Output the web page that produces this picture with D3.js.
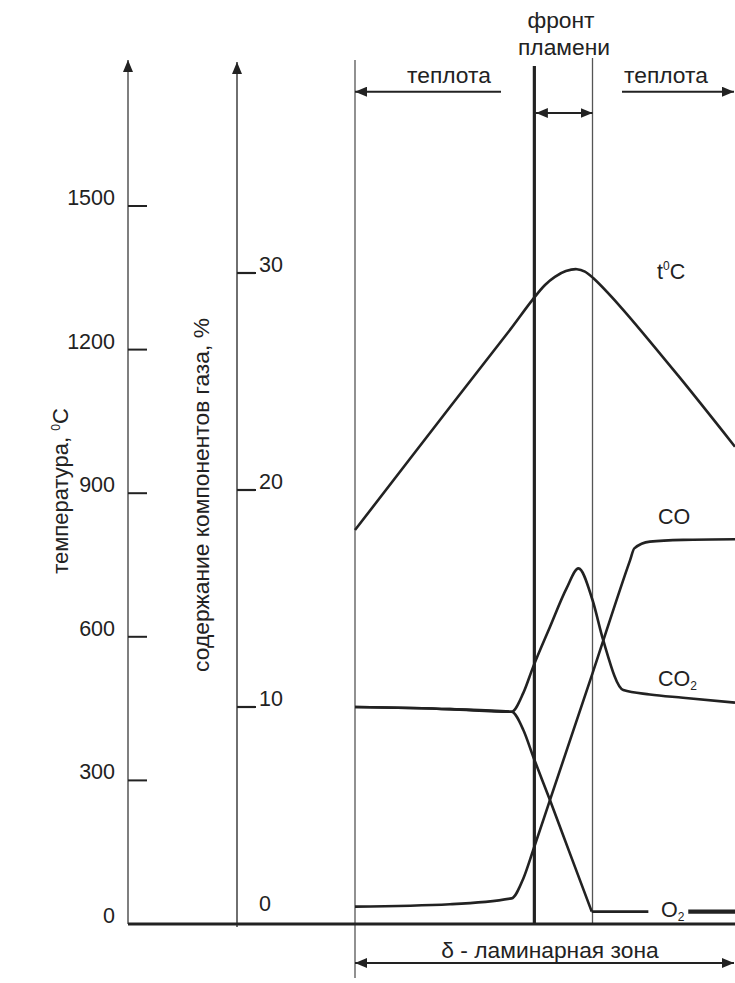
<!DOCTYPE html>
<html><head><meta charset="utf-8">
<script src="https://cdn.jsdelivr.net/npm/d3@7"></script>
<style>body{margin:0;background:#fff}svg text{font-family:"Liberation Sans",Arial,sans-serif;fill:#222}</style>
</head><body><div id="chart"></div>
<script>
// ---- data ----
const tempTicks = [0, 300, 600, 900, 1200, 1500];
const gasTicks = [0, 10, 20, 30];
// zone boundaries along the laminar zone (0..100)
const zoneBounds = [0, 47.2, 62.5, 100];
// temperature, °C
const tempX = [0, 25, 40, 46.8, 50.0, 52.6, 55.5, 58.4, 60.5, 62.6, 69.7, 85, 100];
const tempV = [823, 1080, 1233, 1305, 1335, 1352, 1364, 1368, 1363, 1350, 1291, 1146, 997];
// CO2, %
const co2X = [0, 25, 41.2, 44.3, 46.9, 51.3, 55.7, 58.8, 62.5, 65.3, 70.6, 77.6, 86.3, 100];
const co2V = [10.0, 9.9, 9.78, 10.65, 11.86, 13.69, 15.48, 16.39, 14.93, 13.09, 10.78, 10.58, 10.43, 10.2];
// CO, %
const coX = [0, 25, 41.2, 44.3, 46.9, 51.3, 62.5, 72.4, 73.5, 77.6, 86.4, 100];
const coV = [0.80, 0.91, 1.18, 2.1, 3.41, 5.71, 11.55, 16.77, 17.31, 17.62, 17.70, 17.73];
// O2, %
const o2X = [0, 25, 41.2, 44.3, 46.9, 51.3, 56.6, 62.3];
const o2V = [10.0, 9.9, 9.78, 8.94, 7.71, 5.71, 3.23, 0.57];
const o2TailX = [62.3, 77.2];
const o2Tail2X = [87.7, 100];
const o2TailV = 0.57;

// ---- layout ----
const W = 735, H = 983;
const baseY = 924;
const tAxisX = 128, gAxisX = 237;
const x = d3.scaleLinear().domain([0, 100]).range([355, 735]);
const yT = d3.scaleLinear().domain([0, 1500]).range([baseY, 206]);
const yG = d3.scaleLinear().domain([0, 30]).range([baseY, 273]);
const FS = 21.5, FC = 22.8;
const ink = "#222";

const svg = d3.select("#chart").append("svg").attr("width", W).attr("height", H);
const defs = svg.append("defs");
defs.append("marker").attr("id", "ah").attr("viewBox", "0 0 12 10")
  .attr("refX", 12).attr("refY", 5).attr("markerUnits", "userSpaceOnUse")
  .attr("markerWidth", 12).attr("markerHeight", 10).attr("orient", "auto-start-reverse")
  .append("path").attr("d", "M0,0 L12,5 L0,10 Z").attr("fill", ink);

function line(x1, y1, x2, y2, w, c) {
  return svg.append("line").attr("x1", x1).attr("y1", y1).attr("x2", x2).attr("y2", y2)
    .attr("stroke", c || ink).attr("stroke-width", w);
}

// axes
line(tAxisX, baseY, tAxisX, 60, 1.5, "#555").attr("marker-end", "url(#ah)");
line(gAxisX, baseY + 3, gAxisX, 62, 1.3, ink).attr("marker-end", "url(#ah)");
tempTicks.filter(d => d > 0).forEach(d => line(tAxisX, yT(d), tAxisX + 19, yT(d), 2));
gasTicks.filter(d => d > 0).forEach(d => line(gAxisX, yG(d), gAxisX + 19, yG(d), 2.2));
svg.selectAll(".tl").data(tempTicks).enter().append("text")
  .attr("x", tAxisX - 13).attr("y", d => yT(d) - 1).attr("text-anchor", "end")
  .attr("font-size", FS).text(d => d);
svg.selectAll(".gl").data(gasTicks).enter().append("text")
  .attr("x", gAxisX + 22).attr("y", d => d === 0 ? yG(d) - 13 : yG(d) - 1)
  .attr("font-size", FS).text(d => d);

// axis titles
const t1 = svg.append("text").attr("transform", "translate(68,491) rotate(-90)")
  .attr("text-anchor", "middle").attr("font-size", 22);
t1.append("tspan").text("температура, ");
t1.append("tspan").attr("font-size", 12).attr("dy", -8).text("0");
t1.append("tspan").attr("dy", 8).text("C");
svg.append("text").attr("transform", "translate(209,495) rotate(-90)")
  .attr("text-anchor", "middle").attr("font-size", FC).text("содержание компонентов газа, %");

// zone lines
line(x(zoneBounds[0]), 60, x(zoneBounds[0]), 978, 1.3, "#555");
line(x(zoneBounds[1]), 66, x(zoneBounds[1]), baseY, 3.2, ink);
line(x(zoneBounds[2]), 58, x(zoneBounds[2]), baseY, 1.3, "#555");

// baseline
line(tAxisX, baseY, W, baseY, 3, ink);

// top arrows and labels
line(501, 91.7, x(zoneBounds[0]), 91.7, 2).attr("marker-end", "url(#ah)");
line(622, 91.7, x(zoneBounds[3]) - 1, 91.7, 2).attr("marker-end", "url(#ah)");
line(x(zoneBounds[1]) + 1.5, 113, x(zoneBounds[2]), 113, 2)
  .attr("marker-start", "url(#ah)").attr("marker-end", "url(#ah)");
svg.append("text").attr("x", 449).attr("y", 83).attr("text-anchor", "middle").attr("font-size", FC).text("теплота");
svg.append("text").attr("x", 666).attr("y", 83).attr("text-anchor", "middle").attr("font-size", FC).text("теплота");
svg.append("text").attr("x", 561).attr("y", 28).attr("text-anchor", "middle").attr("font-size", FC).text("фронт");
svg.append("text").attr("x", 564).attr("y", 55).attr("text-anchor", "middle").attr("font-size", FC).text("пламени");

// bottom arrow
line(x(zoneBounds[0]), 963, x(zoneBounds[3]) - 1, 963, 2)
  .attr("marker-start", "url(#ah)").attr("marker-end", "url(#ah)");
svg.append("text").attr("x", 550).attr("y", 958).attr("text-anchor", "middle").attr("font-size", FC).text("δ - ламинарная зона");

// curves
function curve(xs, vs, ys, cf) {
  const gen = d3.line().x(d => x(d[0])).y(d => ys(d[1])).curve(cf || d3.curveMonotoneX);
  svg.append("path").attr("d", gen(xs.map((v, i) => [v, vs[i]])))
    .attr("fill", "none").attr("stroke", ink).attr("stroke-width", 2.6)
    .attr("stroke-linejoin", "round");
}
curve(tempX, tempV, yT, d3.curveCatmullRom.alpha(0.5));
curve(co2X, co2V, yG);
curve(coX, coV, yG);
curve(o2X, o2V, yG);
line(x(o2TailX[0]), yG(o2TailV), x(o2TailX[1]), yG(o2TailV), 2.8);
line(x(o2Tail2X[0]), yG(o2TailV), x(o2Tail2X[1]), yG(o2TailV), 4.2);

// curve labels
const lt = svg.append("text").attr("x", 657).attr("y", 279).attr("font-size", FS);
lt.append("tspan").text("t");
lt.append("tspan").attr("font-size", 12).attr("dy", -9).text("0");
lt.append("tspan").attr("dy", 9).text("C");
svg.append("text").attr("x", 658).attr("y", 524).attr("font-size", FS).text("CO");
const lc = svg.append("text").attr("x", 658).attr("y", 686).attr("font-size", FS);
lc.append("tspan").text("CO");
lc.append("tspan").attr("font-size", 12).attr("dy", 4).text("2");
const lo = svg.append("text").attr("x", 661).attr("y", 917).attr("font-size", FS);
lo.append("tspan").text("O");
lo.append("tspan").attr("font-size", 12).attr("dy", 4).text("2");
</script></body></html>
